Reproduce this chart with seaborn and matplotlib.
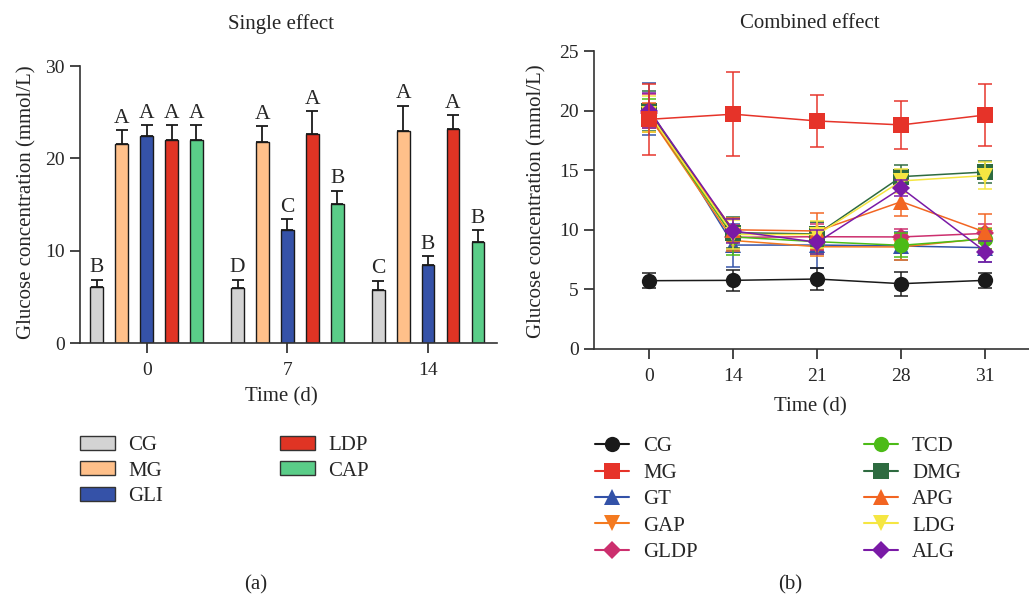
import numpy as np
import pandas as pd
import seaborn as sns
import matplotlib.pyplot as plt
from matplotlib.patches import Patch
from matplotlib.lines import Line2D

# ---- panel (a): single effect ----
ngay_a = ['0', '7', '14']
nhom_a = ['CG', 'MG', 'GLI', 'LDP', 'CAP']
mau_a = ['#d3d3d3', '#ffc08a', '#3552a8', '#e03424', '#5acd88']
cg_a = [6.07, 5.96, 5.74]
mg_a = [21.55, 21.8, 23.0]
gli_a = [22.4, 12.2, 8.44]
ldp_a = [21.95, 22.6, 23.2]
cap_a = [22.0, 15.1, 10.9]
cg_a_err = [0.8, 0.9, 1.0]
mg_a_err = [1.5, 1.7, 2.7]
gli_a_err = [1.2, 1.2, 1.0]
ldp_a_err = [1.65, 2.5, 1.5]
cap_a_err = [1.6, 1.4, 1.3]
chu_a = [['B', 'D', 'C'], ['A', 'A', 'A'], ['A', 'C', 'B'], ['A', 'A', 'A'], ['A', 'B', 'B']]

# ---- panel (b): combined effect ----
ngay_b = ['0', '14', '21', '28', '31']
nhom_b = ['CG', 'MG', 'GT', 'GAP', 'GLDP', 'TCD', 'DMG', 'APG', 'LDG', 'ALG']
mau_b = ['#1a1a1a', '#e63329', '#3352a8', '#f47a20', '#cc2f6e',
         '#4cbb17', '#2e6b40', '#f26522', '#f5e642', '#7a1aa6']
dau_b = ['o', 's', '^', 'v', 'D', 'o', 's', '^', 'v', 'D']
cg_b = [5.73, 5.76, 5.87, 5.48, 5.76]
mg_b = [19.27, 19.7, 19.13, 18.8, 19.63]
gt_b = [20.13, 8.72, 8.72, 8.64, 8.5]
gap_b = [19.5, 9.1, 8.58, 8.56, 9.28]
gldp_b = [19.8, 9.37, 9.42, 9.4, 9.7]
tcd_b = [19.6, 9.4, 9.0, 8.7, 9.23]
dmg_b = [19.95, 9.76, 9.65, 14.46, 14.85]
apg_b = [19.4, 10.0, 9.9, 12.36, 9.8]
ldg_b = [19.7, 9.6, 9.6, 14.1, 14.55]
alg_b = [20.0, 9.9, 8.95, 13.5, 8.17]
cg_b_err = [0.65, 0.9, 0.9, 1.0, 0.65]
mg_b_err = [3.0, 3.5, 2.2, 2.0, 2.6]
gt_b_err = [2.2, 1.8, 1.9, 1.2, 1.2]
gap_b_err = [1.0, 0.9, 0.8, 1.1, 0.9]
gldp_b_err = [1.6, 1.0, 1.1, 0.7, 0.8]
tcd_b_err = [1.4, 1.5, 1.0, 1.0, 0.8]
dmg_b_err = [1.7, 1.3, 1.0, 1.0, 0.9]
apg_b_err = [1.2, 1.0, 1.5, 1.2, 1.5]
ldg_b_err = [1.5, 1.2, 1.1, 1.0, 1.15]
alg_b_err = [1.5, 1.0, 1.0, 0.7, 0.9]

sns.set_style('ticks')
plt.rcParams['font.family'] = ['Liberation Serif', 'DejaVu Serif']
plt.rcParams['axes.edgecolor'] = '#333333'
plt.rcParams['axes.linewidth'] = 1.2
plt.rcParams['xtick.major.size'] = 7
plt.rcParams['ytick.major.size'] = 7
plt.rcParams['xtick.major.width'] = 1.2
plt.rcParams['ytick.major.width'] = 1.2
plt.rcParams['xtick.major.pad'] = 7
plt.rcParams['ytick.major.pad'] = 4

co_chu = 15

fig = plt.figure(figsize=(10.29, 5.98), dpi=100)
ax1 = fig.add_axes([0.0777, 0.4264, 0.4053, 0.4632])
ax2 = fig.add_axes([0.5773, 0.4164, 0.4227, 0.4983])

# ---- ve panel (a) ----
gia_tri_a = [cg_a, mg_a, gli_a, ldp_a, cap_a]
loi_a = [cg_a_err, mg_a_err, gli_a_err, ldp_a_err, cap_a_err]
bang_a = pd.DataFrame([
    {'Time': d, 'Group': g, 'Value': gia_tri_a[i][j], 'Err': loi_a[i][j], 'Label': chu_a[i][j]}
    for i, g in enumerate(nhom_a) for j, d in enumerate(ngay_a)
])
sns.barplot(data=bang_a, x='Time', y='Value', hue='Group', order=ngay_a, hue_order=nhom_a,
            palette=mau_a, saturation=1, width=0.885, gap=0.49, errorbar=None,
            edgecolor='#1a1a1a', linewidth=1.0, legend=False, ax=ax1)

for i, g in enumerate(nhom_a):
    cot = ax1.containers[i]
    for j, thanh in enumerate(cot):
        xc = thanh.get_x() + thanh.get_width() / 2
        h = thanh.get_height()
        e = loi_a[i][j]
        ax1.errorbar(xc, h, yerr=[[0], [e]], fmt='none', ecolor='#1a1a1a',
                     elinewidth=1.3, capsize=4, capthick=1.3)
        ax1.text(xc, h + e + 0.25, chu_a[i][j], ha='center', va='bottom', fontsize=15.5)

ax1.set_xlim(-0.474, 2.49)
ax1.set_ylim(0, 30)
ax1.set_yticks([0, 10, 20, 30])
ax1.set_xlabel('Time (d)', fontsize=co_chu)
ax1.set_ylabel('Glucose concentration (mmol/L)', fontsize=co_chu)
ax1.xaxis.set_label_coords(0.482, -0.195)
ax1.xaxis.label.set_va('center')
ax1.yaxis.set_label_coords(-0.127, 0.509)
ax1.yaxis.label.set_va('center')
ax1.tick_params(labelsize=14)
sns.despine(ax=ax1)
fig.text(0.273, 1 - 24 / 598, 'Single effect', ha='center', va='center', fontsize=co_chu)

tay_a = [Patch(facecolor=c, edgecolor='#333333', linewidth=1.0, label=g) for g, c in zip(nhom_a, mau_a)]
fig.legend(handles=tay_a, ncol=2, loc='upper left', bbox_to_anchor=(0.06, 0.303),
           frameon=False, fontsize=co_chu, handlelength=1.68, handleheight=0.67,
           columnspacing=5.6, labelspacing=0.3, handletextpad=0.63)

# ---- ve panel (b) ----
gia_tri_b = [cg_b, mg_b, gt_b, gap_b, gldp_b, tcd_b, dmg_b, apg_b, ldg_b, alg_b]
loi_b = [cg_b_err, mg_b_err, gt_b_err, gap_b_err, gldp_b_err,
         tcd_b_err, dmg_b_err, apg_b_err, ldg_b_err, alg_b_err]
bang_b = pd.DataFrame([
    {'Pos': j, 'Group': g, 'Value': gia_tri_b[i][j], 'Err': loi_b[i][j]}
    for i, g in enumerate(nhom_b) for j in range(len(ngay_b))
])
thu_tu_ve = [2, 3, 4, 5, 6, 7, 8, 9, 0, 1]
for i in thu_tu_ve:
    g = nhom_b[i]
    sub = bang_b[bang_b['Group'] == g]
    ax2.errorbar(sub['Pos'], sub['Value'], yerr=sub['Err'], fmt='none', ecolor=mau_b[i],
                 elinewidth=1.2, capsize=5, capthick=1.2, alpha=0.9)
    sns.lineplot(data=sub, x='Pos', y='Value', color=mau_b[i], marker=dau_b[i],
                 markersize=(9 if dau_b[i] == 'D' else 11), markeredgewidth=0,
                 linewidth=1.1, ax=ax2, legend=False)

ax2.set_xlim(-0.66, 4.52)
ax2.set_ylim(0, 25)
ax2.set_xticks(range(len(ngay_b)))
ax2.set_xticklabels(ngay_b)
ax2.set_yticks([0, 5, 10, 15, 20, 25])
ax2.set_xlabel('Time (d)', fontsize=co_chu)
ax2.set_ylabel('Glucose concentration (mmol/L)', fontsize=co_chu)
ax2.xaxis.set_label_coords(0.497, -0.195)
ax2.xaxis.label.set_va('center')
ax2.yaxis.set_label_coords(-0.131, 0.497)
ax2.yaxis.label.set_va('center')
ax2.tick_params(labelsize=14)
sns.despine(ax=ax2)
fig.text(0.787, 1 - 24 / 598, 'Combined effect', ha='center', va='center', fontsize=co_chu)

tay_b = [Line2D([0], [0], color=c, marker=m, markersize=(9 if m == 'D' else 11),
                markeredgewidth=0, linewidth=1.5, label=g)
         for g, c, m in zip(nhom_b, mau_b, dau_b)]
fig.legend(handles=tay_b, ncol=2, loc='upper left', bbox_to_anchor=(0.560, 0.301),
           frameon=False, fontsize=co_chu, handlelength=1.63,
           columnspacing=8.0, labelspacing=0.33, handletextpad=0.67)

fig.text(0.248, 1 - 585 / 598, '(a)', ha='center', va='center', fontsize=co_chu)
fig.text(0.768, 1 - 585 / 598, '(b)', ha='center', va='center', fontsize=co_chu)

fig.savefig('out.png', dpi=100)
